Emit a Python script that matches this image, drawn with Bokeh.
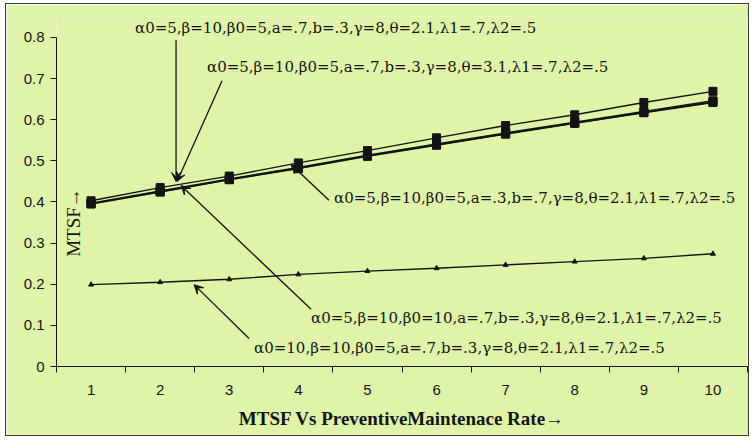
import math
from bokeh.plotting import figure
from bokeh.models import (Range1d, FixedTicker, NumeralTickFormatter, Label, Arrow,
                          VeeHead)
from bokeh.embed import file_html
from bokeh.resources import INLINE

# Preventive maintenance rate (categories on the x axis)
rate = [1, 2, 3, 4, 5, 6, 7, 8, 9, 10]

# MTSF for each parameter set
mtsf_theta31 = [0.403, 0.435, 0.463, 0.495, 0.525, 0.556, 0.586, 0.612, 0.642, 0.669]
mtsf_base = [0.397, 0.427, 0.456, 0.484, 0.514, 0.541, 0.568, 0.594, 0.620, 0.646]
mtsf_a3b7 = [0.395, 0.424, 0.454, 0.481, 0.511, 0.538, 0.565, 0.591, 0.617, 0.642]
mtsf_beta0_10 = [0.396, 0.425, 0.455, 0.482, 0.512, 0.539, 0.566, 0.592, 0.618, 0.643]
mtsf_alpha0_10 = [0.199, 0.205, 0.212, 0.224, 0.232, 0.239, 0.247, 0.255, 0.263, 0.274]

y_ticks = [0, 0.1, 0.2, 0.3, 0.4, 0.5, 0.6, 0.7, 0.8]

labels = [
    "\u03b10=5,\u03b2=10,\u03b20=5,a=.7,b=.3,\u03b3=8,\u03b8=2.1,\u03bb1=.7,\u03bb2=.5",
    "\u03b10=5,\u03b2=10,\u03b20=5,a=.7,b=.3,\u03b3=8,\u03b8=3.1,\u03bb1=.7,\u03bb2=.5",
    "\u03b10=5,\u03b2=10,\u03b20=5,a=.3,b=.7,\u03b3=8,\u03b8=2.1,\u03bb1=.7,\u03bb2=.5",
    "\u03b10=5,\u03b2=10,\u03b20=10,a=.7,b=.3,\u03b3=8,\u03b8=2.1,\u03bb1=.7,\u03bb2=.5",
    "\u03b10=10,\u03b2=10,\u03b20=5,a=.7,b=.3,\u03b3=8,\u03b8=2.1,\u03bb1=.7,\u03bb2=.5",
]
# label anchor (left, middle) and arrow start/end, in data units
label_x = [1.637, 2.679, 4.517, 4.184, 3.359]
label_y = [0.822, 0.727, 0.4085, 0.119, 0.046]
arrow_x0 = [2.230, 2.896, 4.444, 4.184, 3.287]
arrow_y0 = [0.793, 0.695, 0.404, 0.139, 0.068]
arrow_x1 = [2.230, 2.245, 3.894, 2.302, 2.491]
arrow_y1 = [0.450, 0.450, 0.491, 0.440, 0.199]

BG = "#E0F4A9"
INK = "#141414"
SERIF = "Liberation Serif"
NOTE_FONT = "DejaVu Serif"

p = figure(width=744, height=433, output_backend="svg", toolbar_location=None,
           x_range=Range1d(0.5, 10.5), y_range=Range1d(0, 0.851),
           min_border_left=50, min_border_right=3, min_border_top=12,
           min_border_bottom=71)
p.background_fill_color = BG
p.border_fill_color = BG
p.outline_line_color = None
p.grid.visible = False
p.styles = {"border": "1px solid #3a3a3a", "margin-left": "5px", "margin-top": "3px"}

# x axis: labels centred on categories, tick marks between them
p.xaxis.ticker = FixedTicker(ticks=rate, minor_ticks=[r - 0.5 for r in rate] + [10.5])
p.xaxis.major_tick_out = 0
p.xaxis.major_tick_in = 0
p.xaxis.minor_tick_out = 6
p.xaxis.minor_tick_in = 0
p.xaxis.minor_tick_line_color = INK
p.xaxis.axis_line_color = INK
p.xaxis.major_label_standoff = 12
p.xaxis.major_label_text_font = "Liberation Sans"
p.xaxis.major_label_text_font_size = "15px"
p.xaxis.major_label_text_color = INK
p.xaxis.axis_label = "MTSF Vs PreventiveMaintenace Rate\u2192"
p.xaxis.axis_label_text_font = SERIF
p.xaxis.axis_label_text_font_style = "bold"
p.xaxis.axis_label_text_font_size = "19px"
p.xaxis.axis_label_text_color = INK
p.xaxis.axis_label_standoff = 10

p.yaxis.ticker = FixedTicker(ticks=y_ticks, minor_ticks=[])
p.yaxis.bounds = (0, 0.8)
p.yaxis.formatter = NumeralTickFormatter(format="0.[0]")
p.yaxis.major_tick_out = 6
p.yaxis.major_tick_in = 0
p.yaxis.major_tick_line_color = INK
p.yaxis.axis_line_color = INK
p.yaxis.major_label_standoff = 6
p.yaxis.major_label_text_font = "Liberation Sans"
p.yaxis.major_label_text_font_size = "15px"
p.yaxis.major_label_text_color = INK

# series
for ys in (mtsf_base, mtsf_a3b7, mtsf_beta0_10, mtsf_theta31):
    p.line(rate, ys, line_color=INK, line_width=1.4)
    p.scatter(rate, ys, marker="square", size=8, fill_color=INK, line_color=INK)
p.line(rate, mtsf_alpha0_10, line_color=INK, line_width=1.4)
p.scatter(rate, mtsf_alpha0_10, marker="triangle", size=5, fill_color=INK, line_color=INK)

# annotations
for txt, lx, ly, x0, y0, x1, y1 in zip(labels, label_x, label_y,
                                       arrow_x0, arrow_y0, arrow_x1, arrow_y1):
    p.add_layout(Label(x=lx, y=ly, text=txt, text_font=NOTE_FONT, text_font_size="15px",
                       text_color=INK, text_baseline="middle", text_align="left"))
    p.add_layout(Arrow(x_start=x0, y_start=y0, x_end=x1, y_end=y1,
                       line_color=INK, line_width=1.3,
                       end=VeeHead(size=9, fill_color=INK, line_color=INK)))

p.add_layout(Label(x=0.753, y=0.35, text="MTSF\u2192", angle=math.pi / 2,
                   text_font=SERIF, text_font_size="19px", text_color=INK,
                   text_align="center", text_baseline="middle"))

open("out.html", "w").write(file_html(p, INLINE))
